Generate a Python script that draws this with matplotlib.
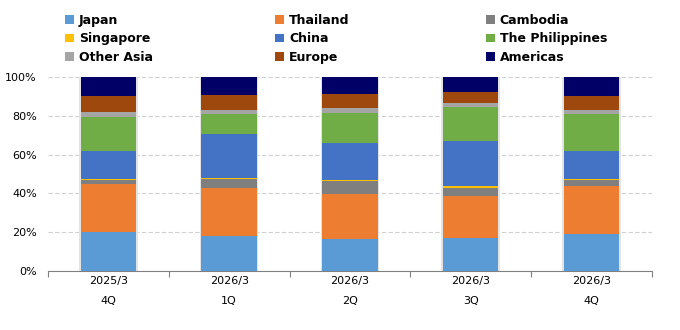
import numpy as np
import matplotlib.pyplot as plt
from matplotlib.ticker import FuncFormatter

# ------------------------------- data (%) -------------------------------
periods = ["2025/3\n\n4Q", "2026/3\n\n1Q", "2026/3\n\n2Q", "2026/3\n\n3Q", "2026/3\n\n4Q"]
regions = ["Japan", "Thailand", "Cambodia", "Singapore", "China",
           "The Philippines", "Other Asia", "Europe", "Americas"]

japan       = [20.0, 18.0, 16.4, 17.0, 19.0]
thailand    = [24.7, 24.6, 23.1, 21.5, 24.7]
cambodia    = [2.0, 4.8, 6.8, 4.1, 3.0]
singapore   = [0.5, 0.5, 0.5, 1.0, 0.7]
china       = [14.4, 22.5, 19.0, 23.3, 14.6]
philippines = [17.5, 10.3, 15.8, 17.8, 18.7]
other_asia  = [2.6, 2.0, 2.6, 2.0, 2.0]
europe      = [8.7, 8.2, 7.2, 5.7, 7.7]
americas    = [9.6, 9.1, 8.6, 7.5, 9.6]

series = [japan, thailand, cambodia, singapore, china,
          philippines, other_asia, europe, americas]
colors = ["#5b9bd5", "#ed7d31", "#7f7f7f", "#ffc000", "#4472c4",
          "#70ad47", "#a5a5a5", "#9e480e", "#000066"]

# ------------------------------- plot -----------------------------------
fig = plt.figure(figsize=(6.8, 3.3), dpi=100)
ax = fig.add_axes([0.0706, 0.179, 0.888, 0.588])

x = np.arange(len(periods))
w = 0.46
# soft shadow behind bars
ax.bar(x, 100, width=w + 0.025, color="#e3e3e3", zorder=2)
bottom = np.zeros(len(periods))
handles = []
for name, vals, c in zip(regions, series, colors):
    h = ax.bar(x, vals, width=w, bottom=bottom, color=c, label=name, zorder=3)
    handles.append(h)
    bottom += np.array(vals)

ax.set_xlim(-0.5, len(periods) - 0.5)
ax.set_ylim(0, 100)
ax.set_yticks(np.arange(0, 101, 20))
ax.yaxis.set_major_formatter(FuncFormatter(lambda v, p: f"{v:.0f}%"))
ax.yaxis.grid(True, color="#d0d0d0", linestyle=(0, (4, 2)), linewidth=0.8, zorder=0)
ax.tick_params(axis="y", length=0, labelsize=8, pad=8)

# separators between categories, labels in the middle
ax.set_xticks(np.arange(-0.5, len(periods)), minor=False)
ax.set_xticklabels([])
ax.set_xticks(x, minor=True)
ax.set_xticklabels(periods, minor=True, fontsize=8, linespacing=0.95)
ax.tick_params(axis="x", which="major", length=4, color="#808080")
ax.tick_params(axis="x", which="minor", length=0, pad=4)

for s in ["top", "right", "left"]:
    ax.spines[s].set_visible(False)
ax.spines["bottom"].set_color("#808080")

# legend: three columns placed separately, read row-wise
cols = [[0, 3, 6], [1, 4, 7], [2, 5, 8]]
xs = [0.083, 0.392, 0.702]
for idx, xpos in zip(cols, xs):
    fig.legend([handles[i] for i in idx], [regions[i] for i in idx],
               loc="upper left", bbox_to_anchor=(xpos, 0.985),
               frameon=False, prop={"weight": "bold", "size": 9},
               handlelength=0.7, handleheight=0.7, handletextpad=0.4,
               labelspacing=0.45, borderaxespad=0.3)

fig.savefig("out.png", dpi=100)
